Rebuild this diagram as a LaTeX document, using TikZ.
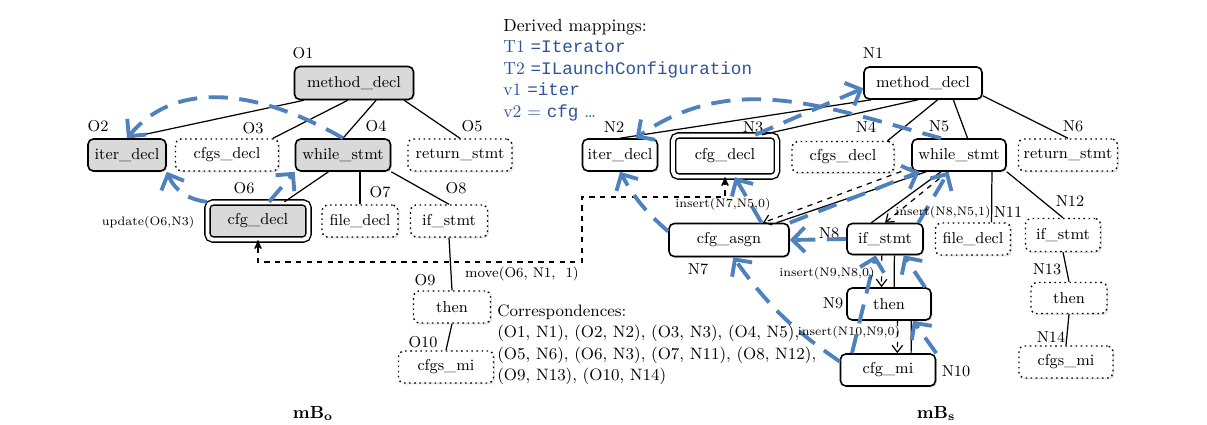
\documentclass[tikz,border=0pt]{standalone}
\usepackage{fontspec}
\newfontfamily\codefont{Liberation Mono}
\usetikzlibrary{arrows}
\usetikzlibrary{arrows.meta}
\usetikzlibrary{shadows}
\definecolor{mapblue}{RGB}{79,129,189}
\definecolor{codeblue}{RGB}{46,84,150}
\definecolor{boxgray}{RGB}{217,217,217}
\tikzset{every node/.style={
        font=\fontsize{9}{10}\selectfont,
        inner sep=1pt},
    astnode/.style={
        draw,
        rounded corners=3pt,
        line width=0.9pt,
        fill=white,
        drop shadow={opacity=0.25,shadow xshift=0.8pt,shadow yshift=-0.8pt}},
    grayed/.style={fill=boxgray},
    absent/.style={dotted,line width=0.8pt},
    twin/.style={double,double distance=2.2pt,line width=0.8pt},
    boxsize/.style 2 args={
        minimum width=#1*0.02cm,
        minimum height=#2*0.02cm},
    tag/.style={inner sep=0pt},
    opnote/.style={font=\fontsize{7}{8}\selectfont,inner sep=0pt},
    treeline/.style={line width=0.7pt},
    mapping/.style={
        draw=mapblue,
        line width=2.2pt,
        dash pattern=on 11pt off 6.5pt,
        -{Straight Barb[length=7pt,width=14pt]}},
    insertarrow/.style={
        dashed,
        line width=0.7pt,
        -{Straight Barb[length=4pt,width=6pt]}},
    moveline/.style={
        dashed,
        line width=0.8pt,
        <->,>=stealth'}}
\begin{document}
\begin{tikzpicture}[x=0.02cm,y=-0.02cm]
        \useasboundingbox (0,0) rectangle (1207,424);

        \node[astnode,grayed,boxsize={119}{33}] (O1) at (354,83) {method\_decl};
        \node[astnode,grayed,boxsize={78}{32}] (O2) at (127,155) {iter\_decl};
        \node[astnode,absent,boxsize={103}{32}] (O3) at (227,155) {cfgs\_decl};
        \node[astnode,grayed,boxsize={95}{32}] (O4) at (343,155) {while\_stmt};
        \node[astnode,absent,boxsize={104}{32}] (O5) at (460,155) {return\_stmt};
        \node[astnode,grayed,twin,boxsize={101}{37}] (O6) at (258,221) {cfg\_decl};
        \node[astnode,absent,boxsize={76}{32}] (O7) at (360,221) {file\_decl};
        \node[astnode,absent,boxsize={77}{32}] (O8) at (449,221) {if\_stmt};
        \node[astnode,absent,boxsize={77}{32}] (O9) at (452,307) {then};
        \node[astnode,absent,boxsize={95}{32}] (O10) at (446,367) {cfgs\_mi};

        \node[astnode,boxsize={118}{32}] (N1) at (923,83) {method\_decl};
        \node[astnode,boxsize={75}{32}] (N2) at (620,155) {iter\_decl};
        \node[astnode,twin,boxsize={104}{41}] (N3) at (725,156) {cfg\_decl};
        \node[astnode,absent,boxsize={102}{31}] (N4) at (843,157) {cfgs\_decl};
        \node[astnode,boxsize={94}{32}] (N5) at (959,155) {while\_stmt};
        \node[astnode,absent,boxsize={99}{32}] (N6) at (1068,155) {return\_stmt};
        \node[astnode,boxsize={120}{33}] (N7) at (729,240) {cfg\_asgn};
        \node[astnode,boxsize={76}{31}] (N8) at (885,239) {if\_stmt};
        \node[astnode,boxsize={84}{32}] (N9) at (889,304) {then};
        \node[astnode,boxsize={95}{32}] (N10) at (888,370) {cfg\_mi};
        \node[astnode,absent,boxsize={75}{32}] (N11) at (973,239) {file\_decl};
        \node[astnode,absent,boxsize={75}{33}] (N12) at (1063,235) {if\_stmt};
        \node[astnode,absent,boxsize={76}{31}] (N13) at (1069,298) {then};
        \node[astnode,absent,boxsize={94}{32}] (N14) at (1066,362) {cfgs\_mi};

        \node[tag] (tO1) at (303,53) {O1};
        \node[tag] (tO2) at (98,126) {O2};
        \node[tag] (tO3) at (253,128) {O3};
        \node[tag] (tO4) at (376,126) {O4};
        \node[tag] (tO5) at (472,126) {O5};
        \node[tag] (tO6) at (244,188) {O6};
        \node[tag] (tO7) at (380,192) {O7};
        \node[tag] (tO8) at (456,188) {O8};
        \node[tag] (tO9) at (425,280) {O9};
        \node[tag] (tO10) at (423,342) {O10};
        \node[tag] (tN1) at (873,53) {N1};
        \node[tag] (tN2) at (614,127) {N2};
        \node[tag] (tN3) at (753,127) {N3};
        \node[tag] (tN4) at (866,127) {N4};
        \node[tag] (tN5) at (939,126) {N5};
        \node[tag] (tN6) at (1073,126) {N6};
        \node[tag] (tN7) at (698,269) {N7};
        \node[tag] (tN8) at (829,233) {N8};
        \node[tag] (tN9) at (833,303) {N9};
        \node[tag] (tN10) at (956,371) {N10};
        \node[tag] (tN11) at (1008,212) {N11};
        \node[tag] (tN12) at (1070,201) {N12};
        \node[tag] (tN13) at (1047,269) {N13};
        \node[tag] (tN14) at (1051,337) {N14};

        \draw[treeline] (O1.-161) -- (O2.north);
        \draw[treeline] (O1.-110) -- (O3.20);
        \draw[treeline] (O1.-38) -- (O4.north);
        \draw[treeline] (O1.-19) -- (O5.north);
        \draw[treeline] (O4.-131) -- (O6.36);
        \draw[treeline] (O4.south -| O7.north) -- (O7.north);
        \draw[treeline] (O4.south east) -- (O8.north);
        \draw[treeline] (O8.south) -- (O9.north);
        \draw[treeline] (O9.south) -- (O10.north);

        \draw[treeline] (N1.-162) -- (N2.north);
        \draw[treeline] (N1.-107) -- (N3.30);
        \draw[treeline] (N1.-49) -- (N4.20);
        \draw[treeline] (N1.-29) -- (N5.63);
        \draw[treeline] (N1.-12) -- (N6.north);
        \draw[treeline] (N5.-153) -- (N7.20);
        \draw[treeline] (N5.-137) -- (N8.130);
        \draw[treeline] (N5.-27) -- (N11.42);
        \draw[treeline] (N5.south east) -- (N12.north);
        \draw[treeline] (N8.-60) -- (N9.73);
        \draw[treeline] (N9.-37) -- (N10.36);
        \draw[treeline] (N12.south) -- (N13.north);
        \draw[treeline] (N13.south) -- (N14.north);

        \draw[insertarrow] (N5.-165) -- (N7.27);
        \draw[insertarrow] (N5.-124) -- (N8.north);
        \draw[insertarrow] (N8.-101) -- (N9.114);
        \draw[insertarrow] (N9.-63) -- (N10.61);

        \coordinate (mvA) at (582,197);
        \coordinate (mvB) at (582,262);
        \draw[moveline] (N3.south) |- (mvA) -- (mvB) -| (O6.south);

        \draw[mapping] (O4.north) to[out=150,in=50] (O2.north);
        \draw[mapping] (O6.north west) to[bend left=30] (O2.south east);
        \draw[mapping] (O6.60) -- (O4.south west);

        \draw[mapping] (N5.137) to[out=165,in=35] (N2.47);
        \draw[mapping] (N3.35) -- (N1.-175);
        \draw[mapping] (N7.north east) -- (N5.-157);
        \draw[mapping] (N7.28) -- (N3.-65);
        \draw[mapping] (N7.172) to[bend left=10] (N2.south);
        \draw[mapping] (N8.west) -- (N7.east);
        \draw[mapping] (N8.26) -- (N5.-122);
        \draw[mapping] (N10.170) to[bend left=10] (N7.-76);
        \draw[mapping] (N10.155) -- (N8.-120);
        \draw[mapping] (N10.north east) -- (N9.-35);
        \draw[mapping] (N9.25) -- (N8.-41);

        \node[opnote] (opUpdate) at (148,222) {update(O6,N3)};
        \node[font=\fontsize{8}{9}\selectfont,inner sep=0pt] (opMove) at (522,274) {move(O6, N1,\ \ 1)};
        \node[opnote] (opInsA) at (723,204) {insert(N7,N5,0)};
        \node[opnote] (opInsB) at (943,212) {insert(N8,N5,1)};
        \node[opnote] (opInsC) at (827,273) {insert(N9,N8,0)};
        \node[opnote] (opInsD) at (849,332) {insert(N10,N9,0)};

        \node[anchor=north west,inner sep=0pt,align=left,font=\fontsize{10}{12.2}\selectfont] (derived) at (503,19)
            {Derived mappings:\\
             \textcolor{codeblue}{T1 {\codefont =Iterator}}\\
             \textcolor{codeblue}{T2 {\codefont =ILaunchConfiguration}}\\
             \textcolor{codeblue}{v1 {\codefont =iter}}\\
             \textcolor{codeblue}{v2 = {\codefont cfg} \ldots}};
        \node[anchor=north west,inner sep=0pt,align=left,font=\fontsize{9.4}{12.3}\selectfont] (corresp) at (497,304)
            {Correspondences:\\
             (O1, N1), (O2, N2), (O3, N3), (O4, N5),\\
             (O5, N6), (O6, N3), (O7, N11), (O8, N12),\\
             (O9, N13), (O10, N14)};

        \node[anchor=base,inner sep=0pt,font=\bfseries\fontsize{10}{12}\selectfont] (mBo) at (313,418) {mB\textsubscript{o}};
        \node[anchor=base,inner sep=0pt,font=\bfseries\fontsize{10}{12}\selectfont] (mBs) at (936,418) {mB\textsubscript{s}};
    \end{tikzpicture}
\end{document}
